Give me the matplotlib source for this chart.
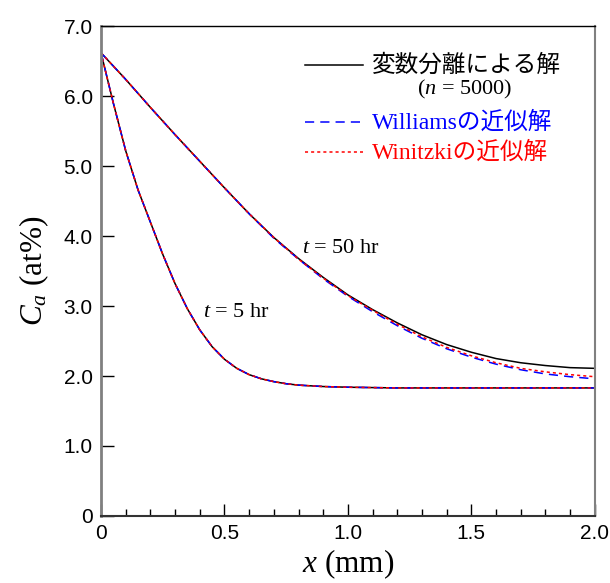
import matplotlib
matplotlib.use('Agg')
import matplotlib.pyplot as plt
import numpy as np

plt.rcParams['mathtext.fontset'] = 'custom'
plt.rcParams['mathtext.rm'] = 'Liberation Serif'
plt.rcParams['mathtext.it'] = 'Liberation Serif:italic'

# t = 5 hr (three solutions overlap)
x5 = [0.0, 0.05, 0.10, 0.15, 0.20, 0.25, 0.30, 0.35, 0.40, 0.45, 0.50, 0.55,
      0.60, 0.65, 0.70, 0.75, 0.80, 0.90, 1.00, 1.20, 1.50, 2.00]
c5 = [6.62, 5.90, 5.22, 4.66, 4.20, 3.74, 3.32, 2.96, 2.66, 2.42, 2.24, 2.11,
      2.02, 1.96, 1.92, 1.89, 1.87, 1.85, 1.84, 1.83, 1.83, 1.83]

# t = 50 hr
x50 = [0.0, 0.1, 0.2, 0.3, 0.4, 0.5, 0.6, 0.7, 0.8, 0.9, 1.0, 1.1, 1.2, 1.3,
       1.4, 1.5, 1.6, 1.7, 1.8, 1.9, 2.0]
c50_sep = [6.62, 6.24, 5.84, 5.45, 5.07, 4.69, 4.32, 3.98, 3.68, 3.41, 3.16,
           2.95, 2.76, 2.59, 2.45, 2.34, 2.25, 2.19, 2.15, 2.12, 2.11]
c50_williams = [6.62, 6.24, 5.84, 5.45, 5.07, 4.69, 4.32, 3.97, 3.67, 3.39, 3.14,
                2.92, 2.72, 2.54, 2.39, 2.27, 2.17, 2.09, 2.03, 1.99, 1.96]
c50_winitzki = [6.62, 6.24, 5.84, 5.45, 5.07, 4.69, 4.32, 3.98, 3.67, 3.40, 3.15,
                2.94, 2.74, 2.56, 2.41, 2.29, 2.19, 2.11, 2.06, 2.02, 1.99]

xticks = [0, 0.5, 1.0, 1.5, 2.0]
xticklabels = ['0', '0.5', '1.0', '1.5', '2.0']
yticks = [0, 1, 2, 3, 4, 5, 6, 7]
yticklabels = ['0', '1.0', '2.0', '3.0', '4.0', '5.0', '6.0', '7.0']

fig = plt.figure(figsize=(6.10, 5.83), dpi=100)
ax = fig.add_axes([0.1656, 0.115, 0.8094, 0.840])

ax.plot(x5, c5, color='black', lw=1.1)
ax.plot(x5, c5, color='blue', lw=1.1, ls=(0, (6, 4)))
ax.plot(x5, c5, color='red', lw=1.1, ls=(0, (2, 2)))
ax.plot(x50, c50_sep, color='black', lw=1.1)
ax.plot(x50, c50_williams, color='blue', lw=1.1, ls=(0, (6, 4)))
ax.plot(x50, c50_winitzki, color='red', lw=1.1, ls=(0, (2, 2)))

ax.set_xlim(0, 2.0)
ax.set_ylim(0, 7.0)
ax.set_xticks(xticks)
ax.set_xticklabels(xticklabels)
ax.set_xticks(np.arange(0, 2.01, 0.1), minor=True)
ax.set_yticks(yticks)
ax.set_yticklabels(yticklabels)
ax.tick_params(which='both', direction='in', top=False, right=False,
               labelsize=15, pad=6)
ax.tick_params(which='major', length=9, width=1)
ax.tick_params(which='minor', length=5, width=1)
for lab in ax.get_xticklabels() + ax.get_yticklabels():
    lab.set_fontfamily('Liberation Sans')

ax.spines['left'].set_color('#808080')
ax.spines['left'].set_linewidth(2)
ax.spines['right'].set_color('#808080')
ax.spines['right'].set_linewidth(1.5)
ax.spines['bottom'].set_color('#333333')
ax.spines['bottom'].set_linewidth(1.5)
ax.spines['top'].set_linewidth(1)

ax.set_xlabel(r'$x$ (mm)', fontsize=22.5, family='Liberation Serif', labelpad=3)
ax.set_ylabel(r'$C_a$ (at%)', fontsize=22.5, family='Liberation Serif', labelpad=9)

ax.text(0.814, 3.83, r'$t$ = 50 hr', fontsize=16, family='Liberation Serif',
        va='center')
ax.text(0.413, 2.91, r'$t$ = 5 hr', fontsize=16, family='Liberation Serif',
        va='center')

# legend drawn by hand
fam = ['Liberation Serif', 'Noto Sans CJK JP']
ax.plot([0.826, 1.061], [6.44, 6.44], color='black', lw=1.1)
ax.text(1.097, 6.44, '変数分離による解', fontsize=17,
        family=['Noto Sans CJK JP'], va='center')
ax.text(1.474, 6.10, r'($n$ = 5000)', fontsize=16, family='Liberation Serif',
        va='center', ha='center')
ax.plot([0.826, 1.061], [5.63, 5.63], color='blue', lw=1.1, ls=(0, (6, 4)))
ax.text(1.097, 5.63, 'Williamsの近似解', fontsize=17, family=fam,
        va='center', color='blue')
ax.plot([0.826, 1.061], [5.20, 5.20], color='red', lw=1.1, ls=(0, (2, 2)))
ax.text(1.097, 5.20, 'Winitzkiの近似解', fontsize=17, family=fam,
        va='center', color='red')

fig.savefig('out.png', dpi=100)
